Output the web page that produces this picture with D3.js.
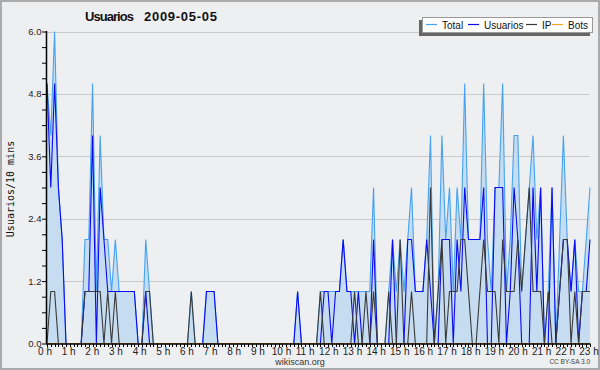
<!DOCTYPE html>
<html>
<head>
<meta charset="utf-8">
<script src="https://cdn.jsdelivr.net/npm/d3@7"></script>
<style>
  body { margin: 0; background: #fff; }
  svg text { font-family: "Liberation Sans", Arial, sans-serif; }
</style>
</head>
<body>
<script>
// 10 minute slots over the day
const slots = d3.range(144);
const hourLabels = d3.range(24).map(h => h + " h");
const yTicks = [0, 1.2, 2.4, 3.6, 4.8, 6.0];

const total = [
	5, 4, 6, 3, 2, 0, 0, 0, 0, 0,
	2, 2, 5, 1, 4, 2, 2, 1, 2, 1,
	1, 1, 1, 1, 0, 0, 2, 1, 0, 0,
	0, 0, 0, 0, 0, 0, 0, 0, 1, 0,
	0, 0, 1, 1, 1, 0, 0, 0, 0, 0,
	0, 0, 0, 0, 0, 0, 0, 0, 0, 0,
	0, 0, 0, 0, 0, 0, 1, 0, 0, 0,
	0, 0, 1, 1, 1, 1, 1, 1, 2, 1,
	1, 1, 1, 1, 1, 1, 3, 0, 0, 0,
	1, 2, 1, 2, 1, 2, 3, 1, 1, 1,
	2, 4, 0, 1, 4, 2, 3, 1, 3, 2,
	5, 2, 2, 2, 2, 5, 2, 1, 3, 3,
	5, 1, 2, 4, 4, 1, 2, 3, 4, 2,
	3, 0, 1, 3, 0, 2, 4, 2, 1, 2,
	1, 1, 2, 3
];
const usuarios = [
	5, 3, 5, 3, 2, 0, 0, 0, 0, 0,
	1, 1, 4, 0, 3, 2, 1, 1, 1, 1,
	1, 1, 1, 1, 0, 0, 1, 0, 0, 0,
	0, 0, 0, 0, 0, 0, 0, 0, 0, 0,
	0, 0, 1, 1, 1, 0, 0, 0, 0, 0,
	0, 0, 0, 0, 0, 0, 0, 0, 0, 0,
	0, 0, 0, 0, 0, 0, 1, 0, 0, 0,
	0, 0, 0, 1, 1, 0, 1, 1, 2, 1,
	1, 0, 1, 0, 0, 0, 2, 0, 0, 0,
	0, 2, 0, 0, 0, 2, 2, 1, 1, 1,
	2, 1, 0, 0, 2, 2, 2, 0, 2, 1,
	3, 2, 2, 2, 2, 3, 0, 0, 3, 3,
	3, 0, 1, 3, 2, 0, 0, 0, 3, 1,
	3, 0, 0, 3, 0, 1, 2, 2, 1, 2,
	0, 1, 1, 2
];
const ip = [
	0, 1, 1, 0, 0, 0, 0, 0, 0, 0,
	1, 1, 1, 1, 1, 0, 1, 0, 1, 0,
	0, 0, 0, 0, 0, 0, 1, 1, 0, 0,
	0, 0, 0, 0, 0, 0, 0, 0, 1, 0,
	0, 0, 0, 0, 0, 0, 0, 0, 0, 0,
	0, 0, 0, 0, 0, 0, 0, 0, 0, 0,
	0, 0, 0, 0, 0, 0, 0, 0, 0, 0,
	0, 0, 1, 0, 0, 0, 0, 0, 0, 0,
	0, 1, 0, 0, 1, 0, 1, 0, 0, 0,
	1, 0, 0, 2, 0, 0, 1, 0, 0, 0,
	0, 3, 0, 1, 2, 0, 1, 1, 1, 2,
	2, 1, 0, 0, 1, 2, 1, 1, 1, 0,
	2, 1, 1, 1, 2, 1, 2, 3, 1, 1,
	1, 0, 1, 0, 0, 1, 2, 2, 0, 1,
	0, 1, 1, 1
];
const bots = slots.map(() => 0);

const seriesNames = ["Total", "Usuarios", "IP", "Bots"];
const seriesColors = ["#45a3f2", "#0a0af5", "#3a3a3a", "#f5a623"];

(() => {
	let width = 600;
	let height = 370;
	let left = 46, right = 590, top = 31.5, bottom = 343.5;

	let svg = d3.select("body").append("svg")
		.attr("width", width).attr("height", height);

	svg.append("rect")
		.attr("x", 1).attr("y", 1).attr("width", width - 2).attr("height", height - 2)
		.style("fill", "#eeeff1").style("stroke", "#ababab").style("stroke-width", 2);

	let x = d3.scaleLinear().domain([0, slots.length - 1]).range([left + 1, right]);
	let y = d3.scaleLinear().domain([0, 6]).range([bottom, top]);
	// hour labels are spread over the full width
	let xLabel = d3.scaleLinear().domain([0, 23]).range([left - 1, right - 1]);

	// grid
	svg.append("g").selectAll("line")
		.data(yTicks.slice(1))
		.enter().append("line")
		.attr("x1", left).attr("x2", right)
		.attr("y1", d => Math.round(y(d)) + 0.5).attr("y2", d => Math.round(y(d)) + 0.5)
		.style("stroke", "#c9c9c9").style("stroke-width", 1);

	// total area
	let area = d3.area()
		.x((d, i) => x(i))
		.y0(y(0))
		.y1(d => y(d));
	svg.append("path")
		.datum(total)
		.attr("d", area)
		.style("fill", "#c6dcf0");

	let line = d3.line()
		.x((d, i) => x(i))
		.y(d => y(d));

	[total, usuarios, ip, bots].forEach((values, k) => {
		svg.append("path")
			.datum(values)
			.attr("d", line)
			.style("fill", "none")
			.style("stroke", seriesColors[k])
			.style("stroke-width", 1.1);
	});

	// y axis
	let yAxis = d3.axisLeft(y)
		.tickValues(d3.range(0, 6.01, 0.3))
		.tickSize(4)
		.tickFormat(d => yTicks.some(t => Math.abs(t - d) < 1e-6) ? d3.format(".1f")(d) : "");
	let gy = svg.append("g")
		.attr("transform", `translate(${left},0)`)
		.call(yAxis);
	gy.select(".domain").remove();
	gy.selectAll("line").style("stroke", "#000");
	gy.selectAll("text")
		.attr("x", -4.5)
		.style("font-size", "9.5px")
		.style("fill", "#222");
	svg.append("line")
		.attr("x1", left + 0.5).attr("x2", left + 0.5)
		.attr("y1", top - 0.5).attr("y2", bottom + 0.5)
		.style("stroke", "#000").style("stroke-width", 1.5);

	// x axis
	svg.append("g").selectAll("line")
		.data(slots)
		.enter().append("line")
		.attr("x1", d => Math.round(x(d)) + 0.5).attr("x2", d => Math.round(x(d)) + 0.5)
		.attr("y1", bottom).attr("y2", bottom + 3.5)
		.style("stroke", "#000").style("stroke-width", 1);
	svg.append("line")
		.attr("x1", left).attr("x2", right)
		.attr("y1", bottom + 0.5).attr("y2", bottom + 0.5)
		.style("stroke", "#000").style("stroke-width", 1.5);

	svg.append("g").selectAll("text")
		.data(hourLabels)
		.enter().append("text")
		.attr("x", (d, i) => xLabel(i))
		.attr("y", 354.5)
		.attr("text-anchor", "middle")
		.style("font-size", "10px")
		.style("fill", "#222")
		.text(d => d);

	// titles
	svg.append("text")
		.attr("x", 85).attr("y", 21)
		.attr("textLength", 49)
		.style("font-size", "13px").style("font-weight", "bold")
		.style("fill", "#111")
		.text("Usuarios");
	svg.append("text")
		.attr("x", 144).attr("y", 21)
		.attr("textLength", 73)
		.style("font-size", "13px").style("font-weight", "bold")
		.style("fill", "#111")
		.text("2009-05-05");

	svg.append("text")
		.attr("transform", "translate(14,189) rotate(-90)")
		.attr("text-anchor", "middle")
		.style("font-family", "DejaVu Sans Mono, monospace")
		.style("font-size", "10px")
		.style("fill", "#111")
		.text("Usuarios/10 mins");

	svg.append("text")
		.attr("x", 300).attr("y", 364.5)
		.attr("text-anchor", "middle")
		.style("font-size", "9px").style("fill", "#333")
		.text("wikiscan.org");

	svg.append("text")
		.attr("x", 590).attr("y", 364)
		.attr("text-anchor", "end")
		.style("font-size", "6.5px").style("fill", "#444")
		.text("CC BY-SA 3.0");

	// legend
	let legend = svg.append("g");
	legend.append("rect")
		.attr("x", 419).attr("y", 20).attr("width", 171).attr("height", 16)
		.style("fill", "#666");
	legend.append("rect")
		.attr("x", 422.5).attr("y", 17.5).attr("width", 170).attr("height", 15)
		.style("fill", "#fff").style("stroke", "#999");
	let legendX = [426, 468, 526, 552];
	seriesNames.forEach((name, k) => {
		legend.append("line")
			.attr("x1", legendX[k]).attr("x2", legendX[k] + 11)
			.attr("y1", 24.5).attr("y2", 24.5)
			.style("stroke", seriesColors[k]).style("stroke-width", 1.2);
		legend.append("text")
			.attr("x", legendX[k] + 16).attr("y", 28.5)
			.style("font-size", "10px").style("fill", "#111")
			.text(name);
	});
})();
</script>
</body>
</html>
